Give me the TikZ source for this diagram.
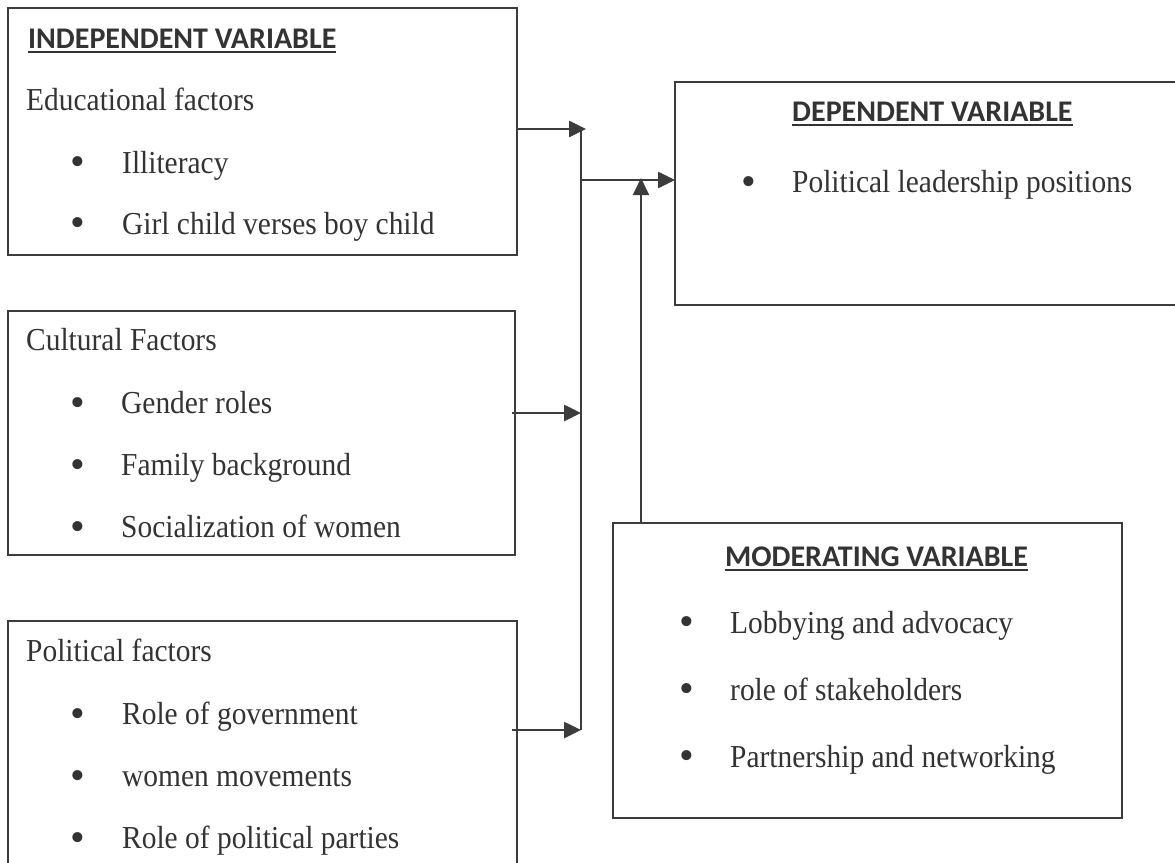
\documentclass[tikz,border=0pt]{standalone}
\usepackage{fontspec}
\setmainfont{Liberation Serif}[FakeStretch=0.92]
\newfontfamily\bulfont{Liberation Serif}
\newfontfamily\headfont{Carlito}
\usetikzlibrary{arrows.meta}
\definecolor{ink}{HTML}{333333}
\definecolor{linec}{HTML}{3C3C3C}
\newcommand\ulhead[1]{\setbox0\hbox{\headfont\bfseries #1}\rlap{\rule[-5pt]{\wd0}{2pt}}\box0}
\begin{document}
\begin{tikzpicture}[x=1pt,y=-1pt,
  box/.style={draw=linec,line width=2pt,anchor=north west,inner sep=0pt,outer sep=0pt},
  txt/.style={anchor=base west,inner sep=0pt,text=ink,font=\fontsize{32}{36}\selectfont},
  head/.style={anchor=base west,inner sep=0pt,text=ink,font=\fontsize{30}{34}\selectfont},
  bul/.style={anchor=center,inner sep=0pt,yshift=-3pt,text=ink,font=\bulfont\fontsize{42}{42}\selectfont},
  conn/.style={draw=linec,line width=2.6pt,-{Triangle[length=17pt,width=16pt]}},
  bus/.style={draw=linec,line width=1.8pt}]
\clip (0,0) rectangle (1175,862);
\fill[white] (0,0) rectangle (1175,862);
% boxes
\node[box,minimum width=509pt,minimum height=247pt] (edu) at (8,8) {};
\node[box,minimum width=507pt,minimum height=244pt] (cul) at (8,311) {};
\node[box,minimum width=509pt,minimum height=260pt] (pol) at (8,621) {};
\node[box,minimum width=520pt,minimum height=223pt] (dep) at (675,82) {};
\node[box,minimum width=509pt,minimum height=295pt] (mod) at (613,523) {};
% independent texts
\node[head] (h1) at (28,48) {\ulhead{INDEPENDENT VARIABLE}};
\node[txt] (e0) at (26,110) {Educational factors};
\node[bul] (eb1) at (78,163) {\textbullet};
\node[txt] (e1) at (122,173) {Illiteracy};
\node[bul] (eb2) at (78,224) {\textbullet};
\node[txt] (e2) at (122,234) {Girl child verses boy child};
\node[txt] (c0) at (26,350) {Cultural Factors};
\node[bul] (cb1) at (78,404) {\textbullet};
\node[txt] (c1) at (121,413) {Gender roles};
\node[bul] (cb2) at (78,466) {\textbullet};
\node[txt] (c2) at (121,475) {Family background};
\node[bul] (cb3) at (78,528) {\textbullet};
\node[txt] (c3) at (121,537) {Socialization of women};
\node[txt] (p0) at (26,661) {Political factors};
\node[bul] (pb1) at (78,715) {\textbullet};
\node[txt] (p1) at (122,724) {Role of government};
\node[bul] (pb2) at (78,777) {\textbullet};
\node[txt] (p2) at (122,786) {women movements};
\node[bul] (pb3) at (78,839) {\textbullet};
\node[txt] (p3) at (122,848) {Role of political parties};
% dependent
\node[head] (h2) at (792,121) {\ulhead{DEPENDENT VARIABLE}};
\node[bul] (db1) at (749,183) {\textbullet};
\node[txt] (d1) at (792,192) {Political leadership positions};
% moderating
\node[head] (h3) at (725,566) {\ulhead{MODERATING VARIABLE}};
\node[bul] (mb1) at (687,623) {\textbullet};
\node[txt] (m1) at (730,633) {Lobbying and advocacy};
\node[bul] (mb2) at (687,690) {\textbullet};
\node[txt] (m2) at (730,700) {role of stakeholders};
\node[bul] (mb3) at (687,757) {\textbullet};
\node[txt] (m3) at (730,767) {Partnership and networking};
% connectors
\coordinate (bt) at (581,129);
\coordinate (bm) at (581,180);
\coordinate (bb) at (581,730);
\coordinate (mt) at (641,523);
\coordinate (e1a) at (517,129);
\coordinate (c1a) at (512,413);
\coordinate (p1a) at (512,730);
\draw[bus] (bt) -- (bb);
\draw[conn] (e1a) -- ([xshift=5pt]bt);
\draw[conn] (c1a) -- (c1a -| bb);
\draw[conn] (p1a) -- (bb);
\draw[conn] (bm) -- (bm -| dep.west);
\draw[bus,-{Triangle[length=17pt,width=16pt]}] (mt) -- ([yshift=2pt]mt |- bm);
\end{tikzpicture}
\end{document}
